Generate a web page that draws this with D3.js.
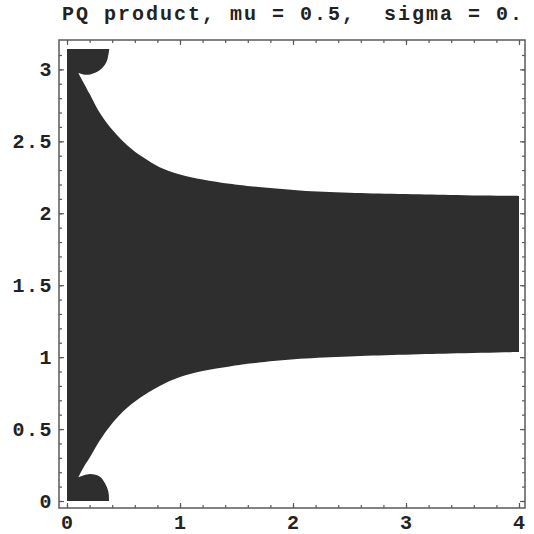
<!DOCTYPE html>
<html lang="en">
  <head>
    <meta charset="utf-8">
    <title>PQ product</title>
    <style>
      body { margin: 0; background: #fff; }
      text { font-family: "Liberation Mono", "DejaVu Sans Mono", monospace; font-weight: bold; fill: #222; white-space: pre; }
    </style>
  </head>
  <body>
  <script src="https://cdn.jsdelivr.net/npm/d3@7"></script>
  <script>
    // boundary points (x, y in plot units)
    var upperX = [0.10, 0.20, 0.28, 0.38, 0.53, 0.68, 0.82, 1.00, 1.20, 1.44, 1.62, 2.06, 2.50, 3.39, 4.00];
    var upperY = [2.975, 2.83, 2.71, 2.60, 2.475, 2.385, 2.32, 2.27, 2.235, 2.205, 2.188, 2.158, 2.142, 2.127, 2.12];
    var lowerX = [0.10, 0.14, 0.20, 0.29, 0.38, 0.50, 0.65, 0.82, 1.00, 1.20, 1.44, 1.62, 2.06, 2.50, 3.39, 4.00];
    var lowerY = [0.165, 0.225, 0.30, 0.42, 0.52, 0.625, 0.72, 0.80, 0.862, 0.903, 0.935, 0.955, 0.988, 1.005, 1.025, 1.035];
    // small blobs at the top and bottom left corners
    var topBlobX = [0.10, 0.144, 0.204, 0.292, 0.35, 0.374];
    var topBlobY = [2.975, 2.965, 2.965, 2.995, 3.053, Math.PI];
    var botBlobX = [0.10, 0.204, 0.292, 0.336, 0.366, 0.372];
    var botBlobY = [0.165, 0.188, 0.169, 0.123, 0.065, 0];

    var xTicks = [0, 1, 2, 3, 4];
    var yTicks = [0, 0.5, 1, 1.5, 2, 2.5, 3];
    var title = "PQ product, mu = 0.5,  sigma = 0.";

    var svg = d3.select("body").append("svg").attr("width", 534).attr("height", 534);

    var x = d3.scaleLinear().domain([0, 4]).range([67, 519]);
    var y = d3.scaleLinear().domain([0, Math.PI]).range([501, 49]);

    // frame box (plot range padding)
    var fl = 59, fr = 525, ft = 40, fb = 508;

    function zip(xs, ys, rev) {
      var a = xs.map(function(v, i){ return [v, ys[i]]; });
      return rev ? a.reverse() : a;
    }

    var curve = d3.line()
      .x(function(d){ return x(d[0]); })
      .y(function(d){ return y(d[1]); })
      .curve(d3.curveCatmullRom.alpha(0.5));

    // join the curved pieces with straight edges along the plot border
    function piece(p) { return "L" + curve(p).slice(1); }
    var d = "M" + x(0) + "," + y(0)
      + piece(zip(botBlobX, botBlobY, true))
      + piece(zip(lowerX, lowerY))
      + piece(zip(upperX, upperY, true))
      + piece(zip(topBlobX, topBlobY))
      + "L" + x(0) + "," + y(Math.PI) + "Z";

    svg.append("path")
      .attr("d", d)
      .style("fill", "#2e2e2e");

    // frame
    svg.append("rect")
      .attr("x", fl).attr("y", ft)
      .attr("width", fr - fl).attr("height", fb - ft)
      .style("fill", "none").style("stroke", "#5a5a5a").style("stroke-width", 1.5);

    // ticks on all four sides, pointing inward
    function ticks(axis, tr, vals, size) {
      var g = svg.append("g").attr("transform", tr)
        .call(axis.tickValues(vals).tickSize(size).tickFormat(""));
      g.select(".domain").remove();
      g.selectAll("line").style("stroke", "#5a5a5a").style("stroke-width", 1.2);
    }
    var xMinor = d3.range(0, 4.001, 0.2), yMinor = d3.range(0, 3.101, 0.1);
    ticks(d3.axisBottom(x), "translate(0," + fb + ")", xMinor, -3);
    ticks(d3.axisBottom(x), "translate(0," + fb + ")", xTicks, -5);
    ticks(d3.axisTop(x), "translate(0," + ft + ")", xMinor, -3);
    ticks(d3.axisTop(x), "translate(0," + ft + ")", xTicks, -5);
    ticks(d3.axisLeft(y), "translate(" + fl + ",0)", yMinor, -3);
    ticks(d3.axisLeft(y), "translate(" + fl + ",0)", yTicks, -5);
    ticks(d3.axisRight(y), "translate(" + fr + ",0)", yMinor, -3);
    ticks(d3.axisRight(y), "translate(" + fr + ",0)", yTicks, -5);

    // tick labels
    svg.selectAll(".xl").data(xTicks).enter().append("text")
      .attr("x", function(d){ return x(d); })
      .attr("y", 529)
      .attr("text-anchor", "middle")
      .style("font-size", "20px")
      .text(function(d){ return d; });

    svg.selectAll(".yl").data(yTicks).enter().append("text")
      .attr("x", 53)
      .attr("y", function(d){ return y(d); })
      .attr("dy", "0.35em")
      .attr("text-anchor", "end")
      .style("font-size", "20px")
      .style("letter-spacing", "1.5px")
      .text(function(d){ return d; });

    // title
    svg.append("text")
      .attr("x", 62).attr("y", 20)
      .attr("textLength", 460).attr("lengthAdjust", "spacing")
      .style("font-size", "20px")
      .text(title);
  </script>
  </body>
</html>
